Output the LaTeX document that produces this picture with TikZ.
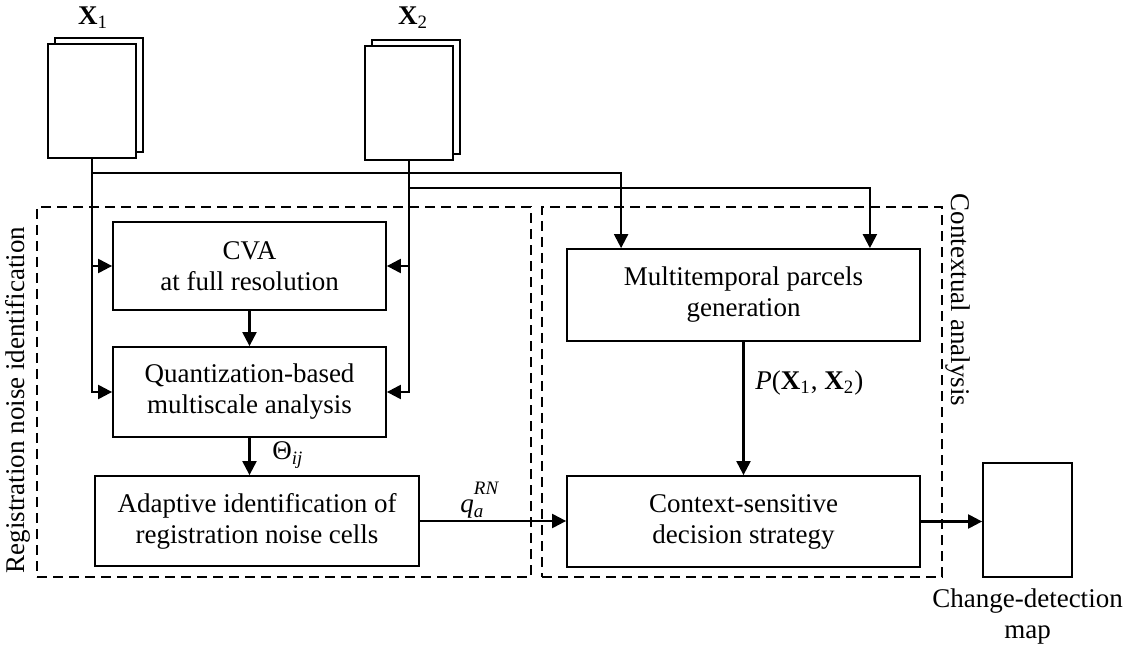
\documentclass[tikz,border=0pt]{standalone}
\usepackage{fontspec}
\setmainfont{Liberation Serif}
\usetikzlibrary{arrows.meta,calc}
\newcommand\fs{\fontsize{13.5}{15.5}\selectfont}
\newcommand\fss{\fontsize{9.5}{10}\selectfont}
\begin{document}
\begin{tikzpicture}[x=0.5pt,y=-0.5pt,
  box/.style={draw, line width=0.9pt, fill=white, align=center, font=\fs, inner sep=0pt},
  img/.style={draw, line width=0.9pt, fill=white, minimum width=44pt, minimum height=57pt, inner sep=0pt},
  arr/.style={line width=1.1pt, -{Triangle[length=7pt,width=7pt]}},
  ln/.style={line width=1.1pt},
  grp/.style={draw, dash pattern=on 5pt off 3pt, line width=0.8pt, inner sep=0pt},
  lab/.style={font=\fs, inner sep=0pt}]
\useasboundingbox (0,0) rectangle (1129,646);
% groups
\node[grp, minimum width=247pt, minimum height=185pt] (gleft) at (284,392) {};
\node[grp, minimum width=200pt, minimum height=185pt] (gright) at (742,392) {};
\node[lab, rotate=90] (tleft) at (18,400) {Registration noise identification};
\node[lab, rotate=-90] (tright) at (958,300) {Contextual analysis};
% images
\node[img] (x1b) at (99,95) {};
\node[img] (x1) at (92,101) {};
\node[img] (x2b) at (416,97) {};
\node[img] (x2) at (409,103) {};
\node[lab] (l1) at (93,18) {\textbf{X}\textsubscript{1}};
\node[lab] (l2) at (413,18) {\textbf{X}\textsubscript{2}};
% boxes
\node[box, minimum width=136.5pt, minimum height=44pt] (cva) at (249.5,266) {CVA\\at full resolution};
\node[box, minimum width=136.5pt, minimum height=45pt] (quant) at (249.5,392) {Quantization-based\\multiscale analysis};
\node[box, minimum width=162pt, minimum height=45pt] (adapt) at (257,521) {Adaptive identification of\\registration noise cells};
\node[box, minimum width=176.5pt, minimum height=46pt] (multi) at (743.5,295) {Multitemporal parcels\\generation};
\node[box, minimum width=176.5pt, minimum height=45.5pt] (ctx) at (743.5,521.5) {Context-sensitive\\decision strategy};
\node[img, minimum width=44.5pt] (map) at (1027.5,520) {};
\node[lab, align=center, anchor=north] (maplab) at ([yshift=-5pt]map.south) {Change-detection\\map};
% connectors
\coordinate (j1) at (92,173);
\coordinate (j2) at (409,188);
\coordinate (m1) at ([xshift=27.5pt]multi.north west);
\coordinate (m2) at ([xshift=-25.5pt]multi.north east);
\draw[arr] (x1.south) |- (quant.west);
\draw[arr] (x1.south |- cva.west) -- (cva.west);
\draw[arr] (x2.south) |- (quant.east);
\draw[arr] (x2.south |- cva.east) -- (cva.east);
\draw[arr] (j1) -| (m1);
\draw[arr] (j2) -| (m2);
\draw[arr] (cva.south) -- (quant.north);
\draw[arr] (quant.south) -- (quant.south |- adapt.north);
\draw[arr] (multi.south) -- (ctx.north);
\draw[arr] (adapt.east) -- (adapt.east -| ctx.west);
\draw[arr] (ctx.east) -- (ctx.east -| map.west);
% labels
\node[lab, anchor=west] (theta) at (272,455) {Θ\textsubscript{\textit{ij}}};
\node[lab, anchor=west] (qlab) at (460,500) {\textit{q}\makebox[0pt][l]{\raisebox{-0.45ex}{\fss\textit{a}}}\raisebox{1.4ex}{\fss\textit{RN}}};
\node[lab, anchor=west] (plab) at (755,383) {\textit{P}(\textbf{X}\textsubscript{1}, \textbf{X}\textsubscript{2})};
\end{tikzpicture}
\end{document}
